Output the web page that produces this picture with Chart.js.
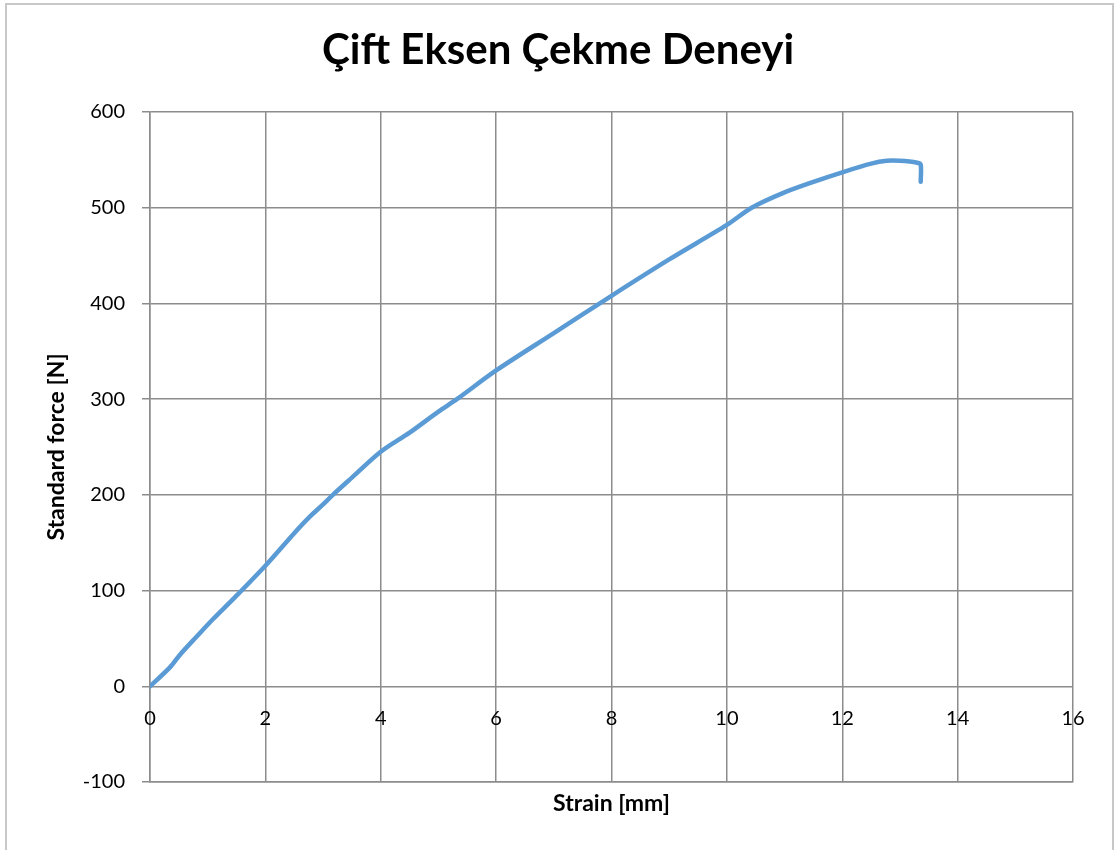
<!DOCTYPE html>
<html>
<head>
<meta charset="utf-8">
<script src="https://cdn.jsdelivr.net/npm/chart.js@4/dist/chart.umd.min.js"></script>
<style>
  html, body { margin: 0; padding: 0; background: #fff; }
  #wrap { width: 1117px; height: 850px; }
</style>
</head>
<body>
<div id="wrap"><canvas id="grafico"></canvas></div>
<script>
// Datos del ensayo (deformación en mm, fuerza en N)
const strainMm = [0, 0.35, 0.52, 0.81, 1.09, 1.44, 2.0, 2.5, 2.75, 3.0, 3.17, 3.5, 4.0, 4.5, 5.0, 5.32, 6.0, 7.0, 8.0, 9.0, 10.0, 10.43, 11.0, 11.5, 12.0, 12.5, 12.77, 13.0, 13.3, 13.36, 13.36];
const forceN   = [0, 20, 33, 52, 70, 91, 126, 160, 176, 190, 200, 218, 245, 265, 287, 300, 330, 369, 408, 446, 482, 500, 516, 527, 537, 546, 549, 549, 547, 545, 527];

const xTicks = [0, 2, 4, 6, 8, 10, 12, 14, 16];
const yTicks = [-100, 0, 100, 200, 300, 400, 500, 600];

const tituloGrafico = 'Çift Eksen Çekme Deneyi';
const tituloX = 'Strain [mm]';
const tituloY = 'Standard force [N]';

const puntos = strainMm.map((x, i) => ({ x: x, y: forceN[i] }));

const gris = '#8c8c8c';

// Fondo blanco y marco del gráfico
const marco = {
    id: 'marco',
    beforeDraw(chart) {
        const ctx = chart.ctx;
        ctx.save();
        ctx.fillStyle = '#fff';
        ctx.fillRect(0, 0, chart.width, chart.height);
        ctx.strokeStyle = '#c8c8c8';
        ctx.lineWidth = 2;
        ctx.strokeRect(6, 4, chart.width - 10, chart.height + 10);
        ctx.restore();
    }
};

// Etiquetas del eje X junto a la línea de fuerza 0
const etiquetasX = {
    id: 'etiquetasX',
    afterDraw(chart) {
        const ctx = chart.ctx;
        const sx = chart.scales.x;
        const y0 = chart.scales.y.getPixelForValue(0);
        ctx.save();
        ctx.font = '20px Lato';
        ctx.fillStyle = '#000';
        ctx.textAlign = 'center';
        ctx.textBaseline = 'middle';
        xTicks.forEach(v => {
            ctx.fillText(String(v), sx.getPixelForValue(v), y0 + 32);
        });
        ctx.restore();
    }
};

const ctx = document.getElementById('grafico').getContext('2d');
const myChart = new Chart(ctx, {
    type: 'scatter',
    data: {
        datasets: [{
            label: tituloY,
            data: puntos,
            showLine: true,
            borderColor: '#5b9bd5',
            backgroundColor: '#5b9bd5',
            borderWidth: 4.5,
            pointRadius: 0,
            tension: 0.3,
            borderJoinStyle: 'round',
            borderCapStyle: 'round'
        }]
    },
    options: {
        responsive: true,
        maintainAspectRatio: false,
        animation: false,
        layout: { padding: { left: 43, right: 44, top: 0, bottom: 33 } },
        plugins: {
            legend: { display: false },
            tooltip: { enabled: false },
            title: {
                display: true,
                text: tituloGrafico,
                color: '#000',
                font: { family: 'Lato', size: 42, weight: 'bold', lineHeight: 1.2 },
                padding: { top: 24.8, bottom: 36.8 }
            }
        },
        scales: {
            x: {
                type: 'linear',
                position: 'bottom',
                min: 0,
                max: 16,
                afterBuildTicks: s => { s.ticks = xTicks.map(v => ({ value: v })); },
                afterFit: s => { s.height = 35; },
                ticks: { display: false },
                grid: { color: gris, lineWidth: 1.5, drawTicks: false },
                border: { color: gris, width: 1.5 },
                title: {
                    display: true,
                    text: tituloX,
                    color: '#000',
                    font: { family: 'Lato', size: 23, weight: 'bold', lineHeight: 1.2 },
                    padding: { top: 0, bottom: 0 }
                }
            },
            y: {
                type: 'linear',
                min: -100,
                max: 600,
                afterBuildTicks: s => { s.ticks = yTicks.map(v => ({ value: v })); },
                afterFit: s => { s.width = 107; },
                ticks: {
                    color: '#000',
                    padding: 17,
                    font: { family: 'Lato', size: 20 }
                },
                grid: { color: gris, lineWidth: 1.5, tickLength: 8 },
                border: { color: gris, width: 1.5 },
                title: {
                    display: true,
                    text: tituloY,
                    color: '#000',
                    font: { family: 'Lato', size: 23, weight: 'bold', lineHeight: 1.2 },
                    padding: { top: 0, bottom: 0 }
                }
            }
        }
    },
    plugins: [marco, etiquetasX]
});
</script>
</body>
</html>
